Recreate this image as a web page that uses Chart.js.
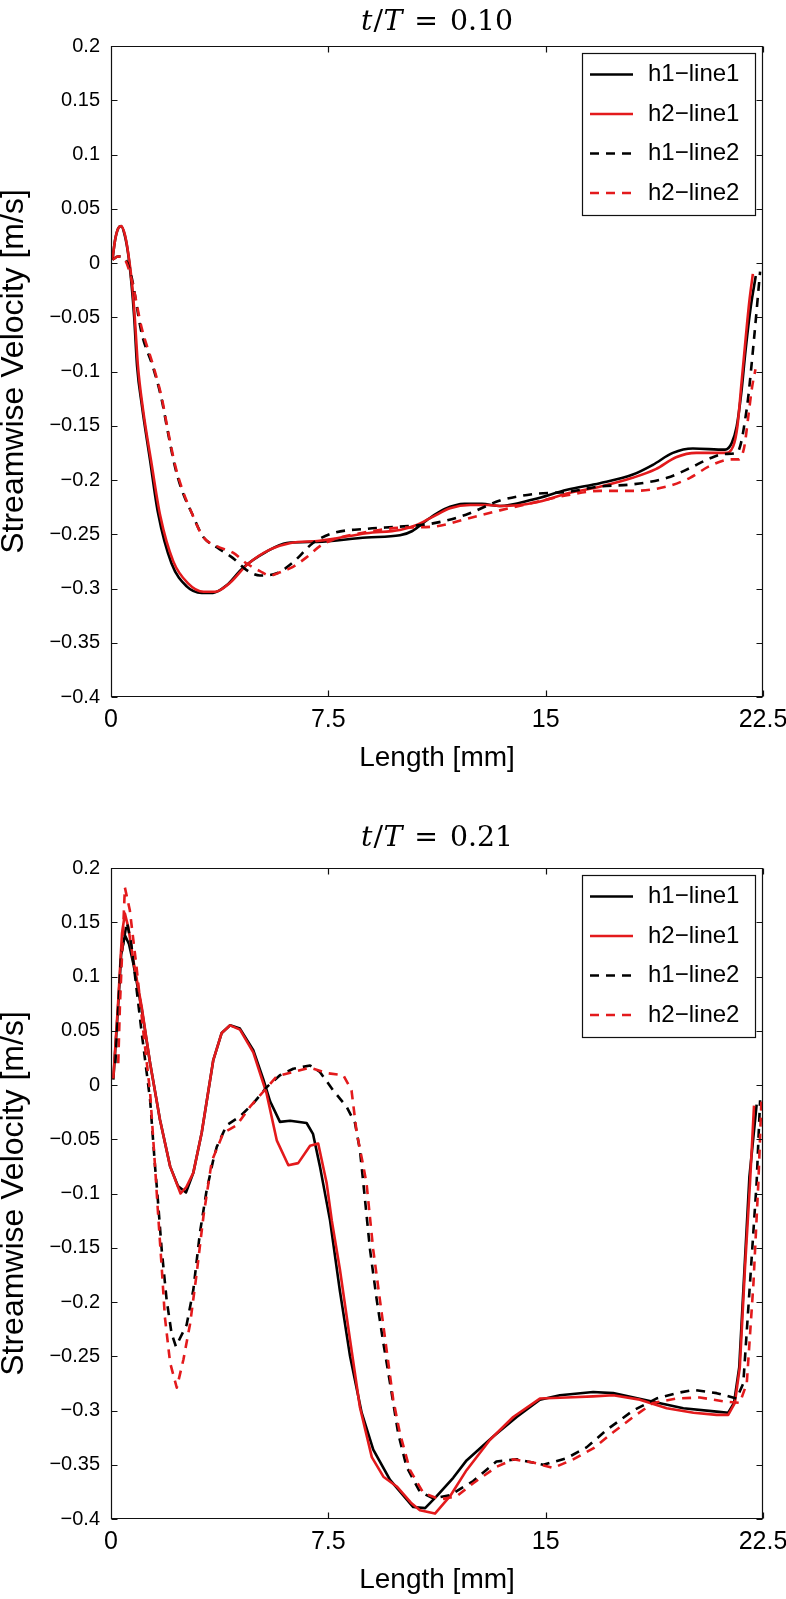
<!DOCTYPE html>
<html>
<head>
<meta charset="utf-8">
<script src="https://cdn.jsdelivr.net/npm/chart.js@4.4.1/dist/chart.umd.min.js"></script>
<style>
html, body { margin: 0; padding: 0; background: #fff; overflow: hidden; }
#wrap { position: relative; width: 786px; height: 1599px; }
canvas { position: absolute; left: 0; display: block; }
</style>
</head>
<body>
<div id="wrap">
  <canvas id="c1" width="786" height="822" style="top:0px"></canvas>
  <canvas id="c2" width="786" height="822" style="top:822px"></canvas>
</div>
<script>
// ---------------- DATA ----------------
const seriesLabels = ['h1\u2212line1', 'h2\u2212line1', 'h1\u2212line2', 'h2\u2212line2'];
const titleValues = ['0.10', '0.21'];
const xAxisTitle = 'Length [mm]';
const yAxisTitle = 'Streamwise Velocity [m/s]';
const xTickValues = [0, 7.5, 15, 22.5];
const xTickLabels = ['0', '7.5', '15', '22.5'];
const yTickValues = [0.2, 0.15, 0.1, 0.05, 0, -0.05, -0.1, -0.15, -0.2, -0.25, -0.3, -0.35, -0.4];
const yTickLabels = ['0.2', '0.15', '0.1', '0.05', '0', '\u22120.05', '\u22120.1', '\u22120.15', '\u22120.2', '\u22120.25', '\u22120.3', '\u22120.35', '\u22120.4'];

// t/T = 0.10
const t010_h1line1_x = [0.05,0.14,0.25,0.35,0.48,0.6,0.71,0.8,0.9,1.07,1.35,1.62,2.09,2.61,3.13,3.52,3.99,4.55,5.37,6.06,7.1,8.82,9.97,10.4,10.9,11.5,12.2,12.8,13.42,14.56,15.74,16.87,18.01,18.7,19.39,20.08,21.19,21.42,21.59,21.75,21.9,22.08,22.25];
const t010_h1line1_y = [0.003,0.021,0.032,0.034,0.025,0.007,-0.02,-0.05,-0.095,-0.132,-0.182,-0.23,-0.277,-0.298,-0.304,-0.304,-0.297,-0.281,-0.266,-0.258,-0.257,-0.253,-0.251,-0.247,-0.237,-0.227,-0.222,-0.222,-0.224,-0.218,-0.209,-0.203,-0.195,-0.186,-0.175,-0.171,-0.172,-0.166,-0.151,-0.12,-0.08,-0.04,-0.012];

const t010_h2line1_x = [0.05,0.14,0.25,0.35,0.48,0.6,0.73,0.82,0.93,1.1,1.4,1.7,2.15,2.65,3.2,3.6,4.1,4.7,5.5,6.2,7.2,8.82,9.97,10.5,11.1,11.7,12.4,13.0,13.5,14.6,15.8,16.9,18.0,18.8,19.5,20.2,21.2,21.47,21.62,21.76,21.9,22.03,22.15];
const t010_h2line1_y = [0.003,0.021,0.032,0.034,0.026,0.008,-0.02,-0.05,-0.095,-0.134,-0.185,-0.233,-0.275,-0.295,-0.303,-0.303,-0.295,-0.278,-0.264,-0.258,-0.256,-0.249,-0.246,-0.242,-0.234,-0.226,-0.223,-0.223,-0.224,-0.221,-0.212,-0.206,-0.198,-0.19,-0.179,-0.175,-0.175,-0.169,-0.15,-0.11,-0.07,-0.035,-0.01];

const t010_h1line2_x = [0.05,0.24,0.48,0.71,1.06,1.45,1.75,1.97,2.21,2.44,2.78,3.17,3.65,4.21,4.68,5.14,5.72,6.28,6.97,7.66,8.82,9.97,11.11,12.25,13.42,14.56,15.74,16.87,18.01,19.19,19.98,20.67,21.19,21.6,21.74,21.88,21.98,22.19,22.4];
const t010_h1line2_y = [0.003,0.006,0.004,-0.013,-0.065,-0.096,-0.126,-0.157,-0.188,-0.209,-0.23,-0.252,-0.262,-0.272,-0.283,-0.288,-0.286,-0.276,-0.258,-0.249,-0.245,-0.243,-0.24,-0.232,-0.219,-0.213,-0.211,-0.206,-0.204,-0.198,-0.189,-0.18,-0.176,-0.175,-0.166,-0.145,-0.126,-0.07,-0.008];

const t010_h2line2_x = [0.05,0.24,0.48,0.71,1.06,1.45,1.75,1.97,2.21,2.44,2.78,3.17,3.65,4.21,4.68,5.14,5.48,5.93,6.28,6.76,7.21,7.66,8.82,9.97,11.11,12.25,13.42,14.56,15.74,16.87,18.01,19.19,19.98,20.67,21.4,21.65,21.85,22.0,22.12,22.24];
const t010_h2line2_y = [0.003,0.006,0.003,-0.015,-0.06,-0.094,-0.124,-0.155,-0.186,-0.207,-0.23,-0.252,-0.261,-0.267,-0.277,-0.284,-0.288,-0.284,-0.28,-0.271,-0.261,-0.255,-0.248,-0.244,-0.243,-0.236,-0.228,-0.221,-0.214,-0.21,-0.21,-0.206,-0.198,-0.187,-0.181,-0.181,-0.17,-0.14,-0.115,-0.098];

// t/T = 0.21
const t021_h1line1_x = [0.08,0.24,0.35,0.48,0.62,0.77,1.06,1.35,1.69,2.04,2.31,2.59,2.84,3.13,3.53,3.82,4.11,4.45,4.91,5.26,5.49,5.83,6.18,6.75,6.97,7.21,7.56,7.9,8.25,8.65,9.05,9.63,10.43,10.84,11.24,11.81,12.27,13.19,14.0,14.8,15.49,16.64,17.33,18.71,19.75,20.9,21.3,21.5,21.68,21.86,22.03,22.28];
const t021_h1line1_y = [0.005,0.07,0.12,0.138,0.13,0.112,0.07,0.02,-0.032,-0.075,-0.093,-0.099,-0.081,-0.044,0.023,0.048,0.055,0.052,0.032,0.005,-0.015,-0.034,-0.033,-0.035,-0.045,-0.075,-0.125,-0.19,-0.25,-0.302,-0.336,-0.364,-0.389,-0.39,-0.379,-0.362,-0.346,-0.324,-0.306,-0.29,-0.286,-0.283,-0.284,-0.292,-0.298,-0.301,-0.302,-0.293,-0.26,-0.17,-0.085,-0.018];

const t021_h2line1_x = [0.08,0.25,0.38,0.48,0.6,0.77,1.06,1.35,1.69,2.04,2.4,2.6,2.84,3.13,3.53,3.82,4.11,4.45,4.91,5.37,5.72,6.12,6.46,6.87,7.15,7.44,7.62,7.9,8.25,8.59,9.0,9.4,9.86,10.35,10.66,11.18,11.7,12.27,13.08,13.88,14.8,15.72,16.64,17.33,18.25,19.18,20.1,20.9,21.3,21.53,21.7,21.88,22.05,22.19];
const t021_h2line1_y = [0.006,0.078,0.14,0.158,0.145,0.115,0.072,0.02,-0.032,-0.075,-0.1,-0.094,-0.081,-0.044,0.023,0.048,0.055,0.051,0.03,-0.008,-0.051,-0.074,-0.072,-0.056,-0.054,-0.09,-0.125,-0.17,-0.235,-0.297,-0.343,-0.361,-0.37,-0.385,-0.392,-0.395,-0.379,-0.355,-0.327,-0.306,-0.289,-0.288,-0.287,-0.286,-0.29,-0.298,-0.302,-0.304,-0.304,-0.293,-0.26,-0.168,-0.091,-0.019];

const t021_h1line2_x = [0.15,0.35,0.55,0.7,1.06,1.35,1.52,1.6,1.75,1.92,2.09,2.24,2.61,2.84,3.07,3.3,3.53,3.65,3.99,4.45,4.91,5.37,5.83,6.29,6.87,7.21,7.67,8.13,8.42,8.59,8.71,8.94,9.17,9.4,9.63,9.91,10.2,10.66,11.12,11.7,12.5,13.3,14.0,14.92,15.72,16.41,17.1,18.02,18.82,19.52,20.09,20.9,21.59,21.82,22.05,22.28,22.4];
const t021_h1line2_y = [0.02,0.12,0.15,0.13,0.048,-0.014,-0.075,-0.1,-0.152,-0.198,-0.229,-0.241,-0.221,-0.189,-0.136,-0.097,-0.069,-0.057,-0.037,-0.029,-0.017,-0.002,0.009,0.015,0.018,0.012,-0.005,-0.02,-0.035,-0.06,-0.091,-0.152,-0.198,-0.238,-0.275,-0.321,-0.352,-0.375,-0.381,-0.378,-0.365,-0.347,-0.345,-0.35,-0.344,-0.334,-0.318,-0.3,-0.289,-0.284,-0.281,-0.284,-0.289,-0.275,-0.183,-0.09,-0.014];

const t021_h2line2_x = [0.25,0.31,0.48,0.65,0.88,1.12,1.35,1.52,1.63,1.75,1.86,2.04,2.27,2.5,2.73,2.96,3.19,3.48,3.88,4.34,4.8,5.26,5.72,6.29,6.87,7.44,8.02,8.3,8.48,8.71,8.82,9.05,9.28,9.51,9.74,9.97,10.32,10.78,11.35,11.93,12.5,13.3,13.88,14.57,15.26,15.95,16.64,17.33,18.02,18.71,19.52,20.32,21.25,21.7,21.94,22.17,22.34,22.45];
const t021_h2line2_y = [0.02,0.075,0.182,0.161,0.109,0.048,-0.007,-0.075,-0.121,-0.168,-0.214,-0.256,-0.279,-0.253,-0.22,-0.173,-0.121,-0.07,-0.044,-0.037,-0.02,-0.006,0.008,0.012,0.016,0.011,0.009,-0.005,-0.044,-0.075,-0.091,-0.152,-0.198,-0.244,-0.29,-0.321,-0.355,-0.376,-0.382,-0.379,-0.367,-0.352,-0.345,-0.348,-0.353,-0.345,-0.335,-0.32,-0.306,-0.293,-0.289,-0.288,-0.292,-0.293,-0.275,-0.183,-0.09,-0.011];

// ---------------- STYLE ----------------
const STYLE = {
  colors: ['#000000', '#e31a1c', '#000000', '#e31a1c'],
  dashed: [false, false, true, true],
  lineWidth: 2.6,
  dash: [9, 7],
  sans: '"Liberation Sans", Arial, Helvetica, sans-serif',
  serif: '"DejaVu Serif", "Liberation Serif", serif'
};

function labelFor(values, labels, v) {
  const i = values.findIndex(t => Math.abs(t - v) < 1e-9);
  return i >= 0 ? labels[i] : '';
}

const boxAndTicks = {
  id: 'boxAndTicks',
  afterDatasetsDraw(chart) {
    const {ctx, chartArea: a} = chart;
    const xs = chart.scales.x, ys = chart.scales.y;
    const L = Math.round(a.left) + 0.5, R = Math.round(a.right) - 0.5;
    const T = Math.round(a.top) + 0.5, B = Math.round(a.bottom) - 0.5;
    const len = 6;
    ctx.save();
    ctx.strokeStyle = '#111';
    ctx.lineWidth = 1.2;
    ctx.setLineDash([]);
    ctx.beginPath();
    ctx.rect(L, T, R - L, B - T);
    ys.ticks.forEach(t => {
      const p = Math.round(ys.getPixelForValue(t.value)) + 0.5;
      ctx.moveTo(L, p); ctx.lineTo(L + len, p);
      ctx.moveTo(R, p); ctx.lineTo(R - len, p);
    });
    xs.ticks.forEach(t => {
      const p = Math.round(xs.getPixelForValue(t.value)) + 0.5;
      ctx.moveTo(p, B); ctx.lineTo(p, B - len);
      ctx.moveTo(p, T); ctx.lineTo(p, T + len);
    });
    ctx.stroke();
    ctx.restore();
  }
};

const boxedLegend = {
  id: 'boxedLegend',
  afterDraw(chart, args, o) {
    const ctx = chart.ctx;
    ctx.save();
    ctx.fillStyle = '#fff';
    ctx.fillRect(o.left, o.top, o.width, o.height);
    ctx.strokeStyle = '#111';
    ctx.lineWidth = 1.2;
    ctx.strokeRect(o.left + 0.5, o.top + 0.5, o.width, o.height);
    chart.data.datasets.forEach((ds, i) => {
      const y = o.firstRow + i * o.rowGap;
      ctx.beginPath();
      ctx.setLineDash(ds.borderDash || []);
      ctx.strokeStyle = ds.borderColor;
      ctx.lineWidth = ds.borderWidth;
      ctx.moveTo(o.lineX0, y);
      ctx.lineTo(o.lineX1, y);
      ctx.stroke();
      ctx.setLineDash([]);
      ctx.fillStyle = '#000';
      ctx.font = o.font;
      ctx.textBaseline = 'middle';
      ctx.textAlign = 'left';
      ctx.fillText(ds.label, o.textX, y);
    });
    ctx.restore();
  }
};

const mathTitle = {
  id: 'mathTitle',
  afterDraw(chart, args, o) {
    const ctx = chart.ctx;
    const it = 'italic ' + o.size + 'px ' + STYLE.serif;
    const rm = o.size + 'px ' + STYLE.serif;
    const parts = [
      {t: 't', f: it, g: 0},
      {t: '/', f: rm, g: 0.04},
      {t: 'T', f: it, g: 0.02},
      {t: '=', f: rm, g: 0.42},
      {t: o.text, f: rm, g: 0.42}
    ];
    let w = 0;
    parts.forEach(p => {
      ctx.font = p.f;
      p.x = w + p.g * o.size;
      w = p.x + ctx.measureText(p.t).width;
    });
    ctx.save();
    ctx.fillStyle = '#000';
    ctx.textBaseline = 'alphabetic';
    ctx.textAlign = 'left';
    ctx.translate(o.center - w * o.sx / 2, o.baseline);
    ctx.scale(o.sx, 1);
    parts.forEach(p => { ctx.font = p.f; ctx.fillText(p.t, p.x, 0); });
    ctx.restore();
  }
};

function makeChart(canvasId, titleText, titleBaseline, series, smooth) {
  const datasets = series.map((s, i) => ({
    label: seriesLabels[i],
    data: s.x.map((xv, k) => ({x: xv, y: s.y[k]})),
    borderColor: STYLE.colors[i],
    backgroundColor: STYLE.colors[i],
    borderWidth: STYLE.lineWidth,
    borderDash: STYLE.dashed[i] ? STYLE.dash : [],
    pointRadius: 0,
    pointHoverRadius: 0,
    showLine: true,
    fill: false,
    tension: 0,
    cubicInterpolationMode: smooth ? 'monotone' : 'default',
    borderJoinStyle: 'round',
    order: 4 - i
  }));
  return new Chart(document.getElementById(canvasId), {
    type: 'scatter',
    data: {datasets},
    options: {
      responsive: false,
      animation: false,
      devicePixelRatio: 1,
      events: [],
      layout: {padding: {top: 46, right: 23, left: 0, bottom: 0}},
      plugins: {
        legend: {display: false},
        tooltip: {enabled: false},
        title: {display: false},
        mathTitle: {text: titleText, baseline: titleBaseline, center: 437, size: 27, sx: 1.05},
        boxedLegend: {left: 582, top: 53, width: 173, height: 162, firstRow: 74.5, rowGap: 39.5,
                      lineX0: 590, lineX1: 633, textX: 648, font: '24px ' + STYLE.sans}
      },
      scales: {
        x: {
          type: 'linear', min: 0, max: 22.5,
          grid: {display: false, drawTicks: false},
          border: {display: false},
          afterBuildTicks: sc => { sc.ticks = xTickValues.map(v => ({value: v})); },
          afterFit: sc => { sc.height = 125; sc.paddingLeft = 0; sc.paddingRight = 0; },
          ticks: {
            autoSkip: false, maxRotation: 0, minRotation: 0, padding: 8, color: '#000',
            font: {family: STYLE.sans, size: 25},
            callback: v => labelFor(xTickValues, xTickLabels, v)
          },
          title: {
            display: true, text: xAxisTitle, color: '#000',
            font: {family: STYLE.sans, size: 28, lineHeight: 1},
            padding: {top: 0, bottom: 50}
          }
        },
        y: {
          type: 'linear', min: -0.4, max: 0.2,
          grid: {display: false, drawTicks: false},
          border: {display: false},
          afterBuildTicks: sc => { sc.ticks = yTickValues.map(v => ({value: v})); },
          afterFit: sc => { sc.width = 111; sc.paddingTop = 0; sc.paddingBottom = 0; },
          ticks: {
            autoSkip: false, padding: 11, color: '#000',
            font: {family: STYLE.sans, size: 20},
            callback: v => labelFor(yTickValues, yTickLabels, v)
          },
          title: {
            display: true, text: yAxisTitle, color: '#000',
            font: {family: STYLE.sans, size: 32, lineHeight: 1},
            padding: {top: -2, bottom: 0}
          }
        }
      }
    },
    plugins: [boxAndTicks, boxedLegend, mathTitle]
  });
}

makeChart('c1', titleValues[0], 30, [
  {x: t010_h1line1_x, y: t010_h1line1_y},
  {x: t010_h2line1_x, y: t010_h2line1_y},
  {x: t010_h1line2_x, y: t010_h1line2_y},
  {x: t010_h2line2_x, y: t010_h2line2_y}
], true);

makeChart('c2', titleValues[1], 23.7, [
  {x: t021_h1line1_x, y: t021_h1line1_y},
  {x: t021_h2line1_x, y: t021_h2line1_y},
  {x: t021_h1line2_x, y: t021_h1line2_y},
  {x: t021_h2line2_x, y: t021_h2line2_y}
], false);
</script>
</body>
</html>
